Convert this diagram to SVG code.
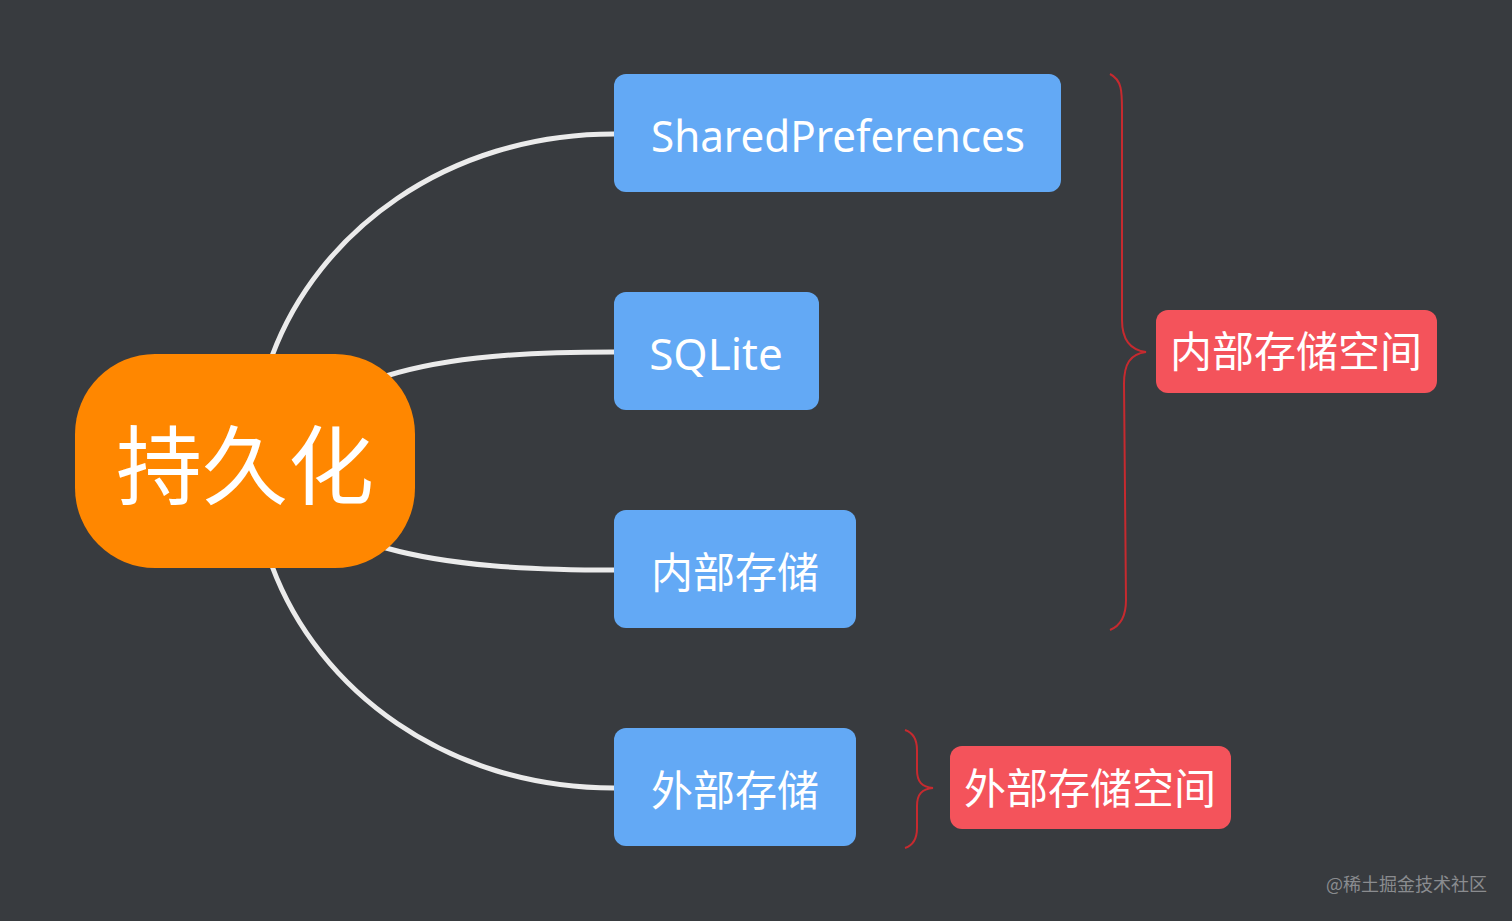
<svg xmlns="http://www.w3.org/2000/svg" width="1512" height="921" viewBox="0 0 1512 921">
<style>
.blue{fill:#63a9f5}
.red{fill:#f4535b}
.t{fill:#ffffff;font-family:"Noto Sans","Noto Sans CJK SC",sans-serif}
.edge{fill:none;stroke:#ebebeb;stroke-width:5;stroke-linecap:round}
.brace{fill:none;stroke:#c62a2f;stroke-width:2}
</style>
<rect x="0" y="0" width="1512" height="921" fill="#383b3f"/>
<g id="connectors">
<path class="edge" d="M272,356 C318,232 446,134 614,134"/>
<path class="edge" d="M386,376 C450,356 530,352 614,352"/>
<path class="edge" d="M386,548 C450,566 530,570 614,570"/>
<path class="edge" d="M272,566 C318,690 446,788 614,788"/>
<path class="brace" d="M1110,74 C1122,80 1122,92 1122,110 L1122,320 C1122,340 1130,350 1146,352 C1130,354 1124,364 1124,384 L1126,600 C1126,616 1120,626 1110,630"/>
<path class="brace" d="M905,730 C914,733 917,740 917,750 L917,770 C917,782 922,787 933,788 C922,789 917,794 917,806 L917,828 C917,838 914,845 905,848"/>
</g>
<g id="root">
<rect x="75" y="354" width="340" height="214" rx="80" fill="#ff8700"/>
<text class="t" x="245" y="498" font-size="86" text-anchor="middle">持久化</text>
</g>
<g id="sharedpreferences">
<rect class="blue" x="614" y="74" width="447" height="118" rx="12"/>
<text class="t" x="838" y="152" font-size="44" text-anchor="middle" textLength="374" lengthAdjust="spacingAndGlyphs">SharedPreferences</text>
</g>
<g id="sqlite">
<rect class="blue" x="614" y="292" width="205" height="118" rx="12"/>
<text class="t" x="716" y="370" font-size="44" text-anchor="middle">SQLite</text>
</g>
<g id="internal">
<rect class="blue" x="614" y="510" width="242" height="118" rx="12"/>
<text class="t" x="735" y="588" font-size="42" text-anchor="middle">内部存储</text>
</g>
<g id="external">
<rect class="blue" x="614" y="728" width="242" height="118" rx="12"/>
<text class="t" x="735" y="806" font-size="42" text-anchor="middle">外部存储</text>
</g>
<g id="internal-space">
<rect class="red" x="1156" y="310" width="281" height="83" rx="12"/>
<text class="t" x="1296" y="367" font-size="42" text-anchor="middle">内部存储空间</text>
</g>
<g id="external-space">
<rect class="red" x="950" y="746" width="281" height="83" rx="12"/>
<text class="t" x="1090" y="804" font-size="42" text-anchor="middle">外部存储空间</text>
</g>
<text x="1326" y="891" font-size="18" fill="#8a8c8f" font-family="Noto Sans CJK SC,sans-serif">@稀土掘金技术社区</text>
</svg>
